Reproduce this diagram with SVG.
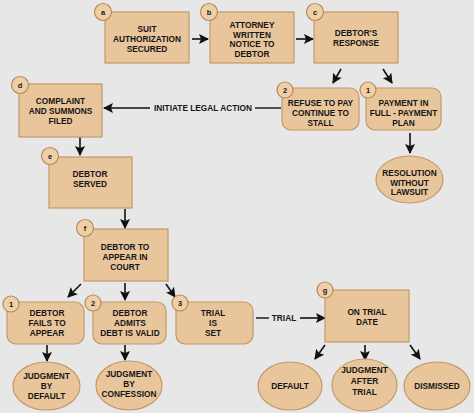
<svg xmlns="http://www.w3.org/2000/svg" width="474" height="413" viewBox="0 0 474 413">
<defs>
<marker id="ah" viewBox="0 0 10 10" refX="9" refY="5" markerWidth="10" markerHeight="10" markerUnits="userSpaceOnUse" orient="auto">
<path d="M0,0 L10,5 L0,10 L2,5 z" fill="#111"/>
</marker>
<style>
.box{fill:#e9c59b;stroke:#c39868;stroke-width:1.2}
.badge{fill:#efcfa6;stroke:#b88a5a;stroke-width:1.2}
.t{font-family:"Liberation Sans",Arial,sans-serif;font-weight:bold;font-size:8.3px;fill:#151515;text-anchor:middle}
.bt{font-family:"Liberation Sans",Arial,sans-serif;font-weight:bold;font-size:7.5px;fill:#151515;text-anchor:middle}
.c{stroke:#111;stroke-width:1.6;fill:none;marker-end:url(#ah)}
.l{stroke:#111;stroke-width:1.4;fill:none}
</style>
</defs>
<rect width="474" height="413" fill="#e7e7e7"/>

<g id="connectors">
<line class="c" x1="192" y1="39" x2="208" y2="39"/>
<line class="c" x1="296" y1="39" x2="313" y2="39"/>
<line class="c" x1="341" y1="69" x2="333" y2="83"/>
<line class="c" x1="383" y1="69" x2="392" y2="83"/>
<line class="l" x1="255" y1="108" x2="281" y2="108"/>
<line class="c" x1="150" y1="108" x2="104" y2="108"/>
<text class="t" x="203" y="111">INITIATE LEGAL ACTION</text>
<line class="c" x1="410" y1="133" x2="410" y2="153"/>
<line class="c" x1="80" y1="137" x2="80" y2="155"/>
<line class="c" x1="125" y1="209" x2="125" y2="228"/>
<line class="c" x1="81" y1="284" x2="68" y2="297"/>
<line class="c" x1="125" y1="283" x2="125" y2="300"/>
<line class="c" x1="166" y1="284" x2="175" y2="297"/>
<line class="c" x1="47" y1="345" x2="47" y2="361"/>
<line class="c" x1="125" y1="345" x2="125" y2="360"/>
<line class="l" x1="256" y1="318" x2="269" y2="318"/>
<line class="c" x1="300" y1="318" x2="325" y2="318"/>
<text class="t" x="284" y="321">TRIAL</text>
<line class="c" x1="325" y1="345" x2="315" y2="359"/>
<line class="c" x1="365" y1="345" x2="365" y2="360"/>
<line class="c" x1="410" y1="345" x2="420" y2="359"/>
</g>

<g id="node-a">
<rect class="box" x="105" y="12" width="84" height="51"/>
<circle class="badge" cx="103" cy="12" r="8.5"/>
<text class="bt" x="103" y="15">a</text>
<text class="t" x="147" y="32">SUIT</text>
<text class="t" x="147" y="42">AUTHORIZATION</text>
<text class="t" x="147" y="52">SECURED</text>
</g>

<g id="node-b">
<rect class="box" x="210" y="12" width="84" height="51"/>
<circle class="badge" cx="209" cy="12" r="8.5"/>
<text class="bt" x="209" y="15">b</text>
<text class="t" x="252" y="28">ATTORNEY</text>
<text class="t" x="252" y="37.5">WRITTEN</text>
<text class="t" x="252" y="47">NOTICE TO</text>
<text class="t" x="252" y="56.5">DEBTOR</text>
</g>

<g id="node-c">
<rect class="box" x="314" y="12" width="84" height="51"/>
<circle class="badge" cx="315" cy="12" r="8.5"/>
<text class="bt" x="315" y="15">c</text>
<text class="t" x="356" y="36">DEBTOR'S</text>
<text class="t" x="356" y="46">RESPONSE</text>
</g>

<g id="node-refuse">
<rect class="box" x="282" y="88" width="77" height="42" rx="9"/>
<circle class="badge" cx="285" cy="90" r="8"/>
<text class="bt" x="285" y="93">2</text>
<text class="t" x="320.5" y="106">REFUSE TO PAY</text>
<text class="t" x="320.5" y="116">CONTINUE TO</text>
<text class="t" x="320.5" y="126">STALL</text>
</g>

<g id="node-payment">
<rect class="box" x="366" y="88" width="75" height="42" rx="9"/>
<circle class="badge" cx="368" cy="90" r="8"/>
<text class="bt" x="368" y="93">1</text>
<text class="t" x="403.5" y="106">PAYMENT IN</text>
<text class="t" x="403.5" y="116">FULL - PAYMENT</text>
<text class="t" x="403.5" y="126">PLAN</text>
</g>

<g id="node-resolution">
<ellipse class="box" cx="409.5" cy="179.5" rx="33.5" ry="23.5"/>
<text class="t" x="409.5" y="176">RESOLUTION</text>
<text class="t" x="409.5" y="186">WITHOUT</text>
<text class="t" x="409.5" y="195">LAWSUIT</text>
</g>

<g id="node-d">
<rect class="box" x="19" y="84" width="83" height="53"/>
<circle class="badge" cx="20" cy="85" r="8.5"/>
<text class="bt" x="20" y="88">d</text>
<text class="t" x="60.5" y="104">COMPLAINT</text>
<text class="t" x="60.5" y="114">AND SUMMONS</text>
<text class="t" x="60.5" y="124">FILED</text>
</g>

<g id="node-e">
<rect class="box" x="49" y="157" width="83" height="51"/>
<circle class="badge" cx="50" cy="156" r="8.5"/>
<text class="bt" x="50" y="159">e</text>
<text class="t" x="90" y="177">DEBTOR</text>
<text class="t" x="90" y="186.5">SERVED</text>
</g>

<g id="node-f">
<rect class="box" x="84" y="229" width="84" height="52"/>
<circle class="badge" cx="85" cy="228" r="8.5"/>
<text class="bt" x="85" y="231">f</text>
<text class="t" x="125" y="250">DEBTOR TO</text>
<text class="t" x="125" y="260">APPEAR IN</text>
<text class="t" x="125" y="270">COURT</text>
</g>

<g id="node-fails">
<rect class="box" x="7" y="302" width="77" height="42" rx="9"/>
<circle class="badge" cx="11" cy="304" r="8"/>
<text class="bt" x="11" y="307">1</text>
<text class="t" x="47" y="316">DEBTOR</text>
<text class="t" x="47" y="326">FAILS TO</text>
<text class="t" x="47" y="336">APPEAR</text>
</g>

<g id="node-admits">
<rect class="box" x="93" y="302" width="73" height="42" rx="9"/>
<circle class="badge" cx="93" cy="303" r="8"/>
<text class="bt" x="93" y="306">2</text>
<text class="t" x="130" y="316">DEBTOR</text>
<text class="t" x="130" y="326">ADMITS</text>
<text class="t" x="130" y="336">DEBT IS VALID</text>
</g>

<g id="node-trialset">
<rect class="box" x="176" y="302" width="77" height="42" rx="9"/>
<circle class="badge" cx="180" cy="303" r="8"/>
<text class="bt" x="180" y="306">3</text>
<text class="t" x="213" y="316">TRIAL</text>
<text class="t" x="213" y="326">IS</text>
<text class="t" x="213" y="336">SET</text>
</g>

<g id="node-jbd">
<ellipse class="box" cx="46.5" cy="386" rx="33.5" ry="24"/>
<text class="t" x="46.5" y="379">JUDGMENT</text>
<text class="t" x="46.5" y="389">BY</text>
<text class="t" x="46.5" y="399">DEFAULT</text>
</g>

<g id="node-jbc">
<ellipse class="box" cx="129" cy="385.5" rx="33" ry="24.5"/>
<text class="t" x="129" y="377">JUDGMENT</text>
<text class="t" x="129" y="387">BY</text>
<text class="t" x="129" y="397">CONFESSION</text>
</g>

<g id="node-g">
<rect class="box" x="325" y="290" width="84" height="52"/>
<circle class="badge" cx="325" cy="290" r="8"/>
<text class="bt" x="325" y="293">g</text>
<text class="t" x="367" y="315">ON TRIAL</text>
<text class="t" x="367" y="325">DATE</text>
</g>

<g id="node-default">
<ellipse class="box" cx="290" cy="386" rx="32" ry="24"/>
<text class="t" x="290" y="389">DEFAULT</text>
</g>

<g id="node-jat">
<ellipse class="box" cx="364.5" cy="385" rx="32.5" ry="26"/>
<text class="t" x="364.5" y="373">JUDGMENT</text>
<text class="t" x="364.5" y="384">AFTER</text>
<text class="t" x="364.5" y="395">TRIAL</text>
</g>

<g id="node-dismissed">
<ellipse class="box" cx="437" cy="386" rx="33" ry="24"/>
<text class="t" x="437" y="389">DISMISSED</text>
</g>
</svg>
